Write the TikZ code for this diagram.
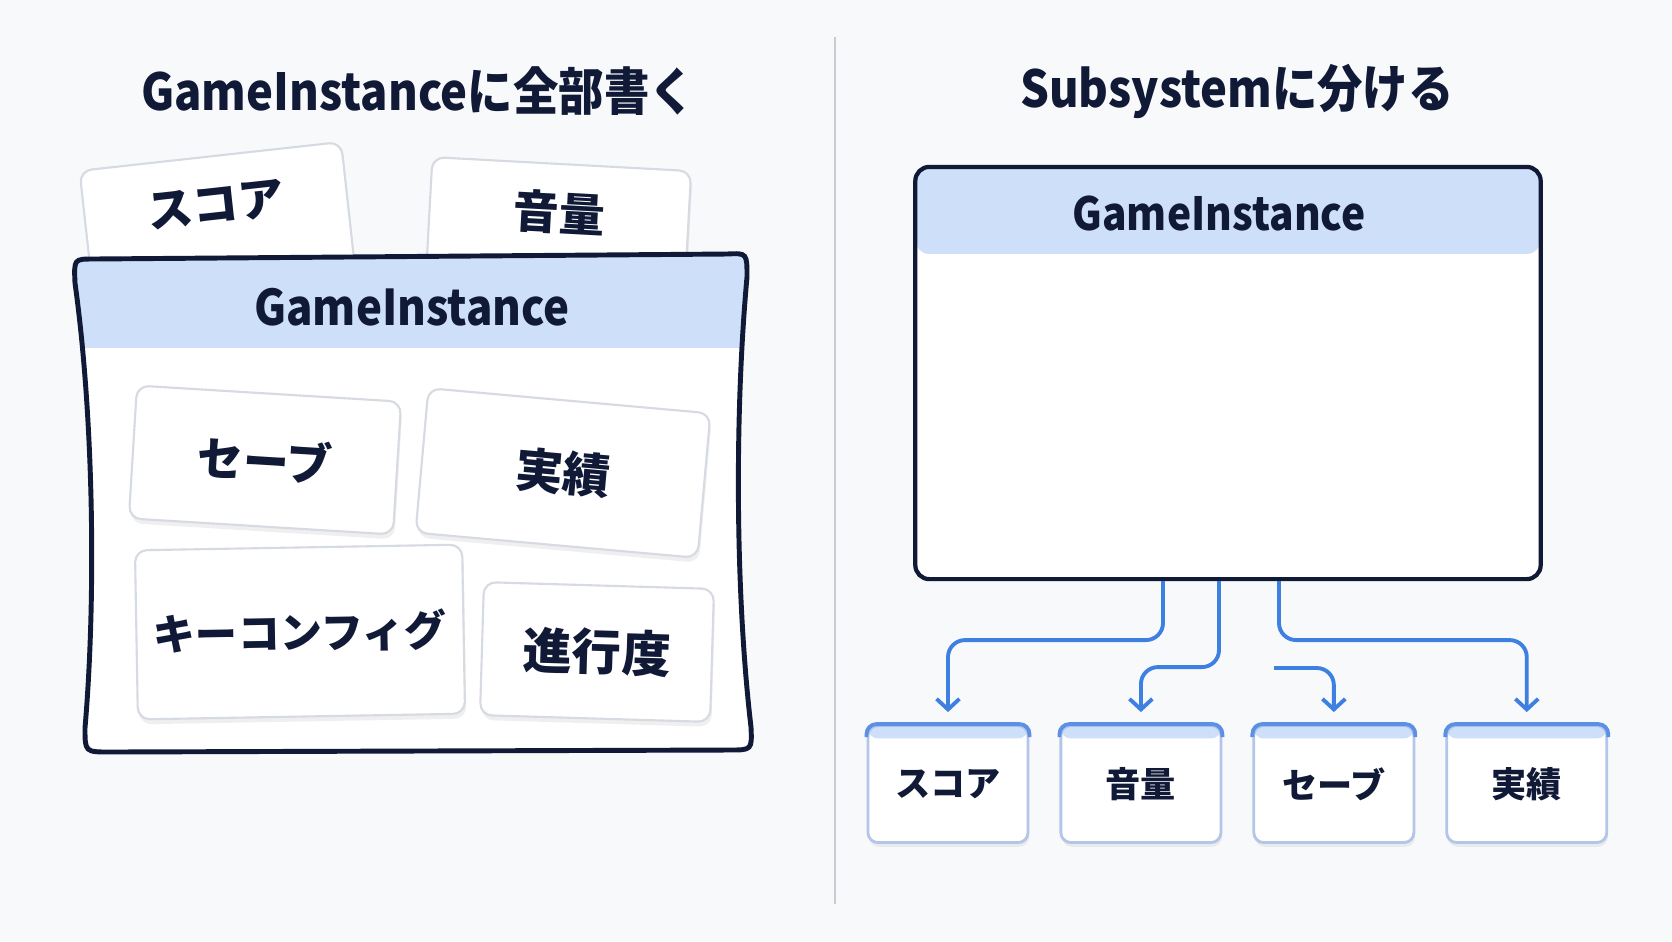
\documentclass[tikz,border=0pt]{standalone}
\usepackage{fontspec}
\newfontfamily\jp{Noto Sans CJK JP}
\newfontfamily\jpnarrow{Noto Sans CJK JP}[FakeStretch=0.89]
\usetikzlibrary{positioning,calc,shadows,arrows.meta}

\definecolor{ink}{HTML}{101936}
\definecolor{headfill}{HTML}{CEDFF9}
\definecolor{flowblue}{HTML}{3E7FE2}
\definecolor{cardline}{HTML}{D6DAE1}
\definecolor{subline}{HTML}{B4C5E8}
\definecolor{subtop}{HTML}{5C90E4}
\definecolor{bgpaper}{HTML}{F8F9FB}
\definecolor{divline}{HTML}{C8CCD3}

% outline of the crowded GameInstance on the left
\newcommand{\messybox}{(93,259) -- (727,254) .. controls (747,253) .. (747,277) .. controls (734,420) and (736,600) .. (751,727) .. controls (752,750) .. (729,750) -- (110,752) .. controls (85,752) .. (85,728) .. controls (96,600) and (94,420) .. (75,283) .. controls (74,259) .. (93,259) -- cycle}

\tikzset{
  title/.style={font=\jpnarrow\bfseries\fontsize{14.5pt}{16pt}\selectfont, text=ink},
  headtxt/.style={font=\jpnarrow\bfseries\fontsize{14pt}{16pt}\selectfont, text=ink},
  card/.style={draw=cardline, line width=0.6pt, fill=white, rounded corners=0.12cm, inner sep=0pt,
    drop shadow={opacity=0.12, shadow xshift=0.4pt, shadow yshift=-1.4pt},
    text=ink, font=\jp\bfseries\fontsize{13pt}{15pt}\selectfont},
  cardtxt/.style={text=ink, font=\jp\bfseries\fontsize{13pt}{15pt}\selectfont},
  bigbox/.style={draw=ink, line width=1.2pt, fill=white, rounded corners=0.14cm,
    path picture={\fill[headfill] (path picture bounding box.north west) rectangle ([yshift=-0.87cm]path picture bounding box.north east);}},
  subbox/.style={draw=subline, line width=0.8pt, fill=white, rounded corners=0.1cm,
    minimum width=1.6cm, minimum height=1.17cm, inner sep=0pt,
    drop shadow={opacity=0.12, shadow xshift=0.3pt, shadow yshift=-1.2pt},
    path picture={\fill[headfill] (path picture bounding box.north west) rectangle ([yshift=-0.13cm]path picture bounding box.north east);},
    text=ink, font=\jp\bfseries\fontsize{10pt}{12pt}\selectfont},
  flow/.style={flowblue, line width=1.1pt, rounded corners=0.17cm,
    -{Straight Barb[length=3pt,width=6.5pt]}, shorten >=0.12cm}
}

\begin{document}
\begin{tikzpicture}[x=0.01cm, y=-0.01cm]
\fill[bgpaper] (0,0) rectangle (1672,941);
\useasboundingbox (0,0) rectangle (1672,941);

% titles and divider
\node[title] (leftTitle) at (418,91) {GameInstanceに全部書く};
\node[title] (rightTitle) at (1237,91) {Subsystemに分ける};
\draw[divline, line width=0.7pt] (835,37) -- (835,904);

% cards sticking out of the top
\node[card, minimum width=2.63cm, minimum height=1.4cm, rotate=6.3] (topScore) at (218,226) {};
\node[cardtxt, rotate=6.3] (topScoreTxt) at ($(topScore.center)!0.3!(topScore.north)$) {スコア};
\node[card, minimum width=2.59cm, minimum height=1.4cm, rotate=-3.1] (topVol) at (558,234) {};
\node[cardtxt, rotate=-3.1] (topVolTxt) at ($(topVol.center)!0.3!(topVol.north)$) {音量};

% left GameInstance
\fill[white] \messybox;
\begin{scope}
\clip \messybox;
\fill[headfill] (60,240) rectangle (770,348);
\end{scope}
\draw[ink, line width=1.4pt] \messybox;
\node[headtxt] (leftHead) at (412,307) {GameInstance};

\node[card, minimum width=2.645cm, minimum height=1.33cm, rotate=-3.5] (save) at (265,460) {セーブ};
\node[card, minimum width=2.83cm, minimum height=1.45cm, rotate=-5.1, font=\jp\bfseries\fontsize{13.5pt}{15pt}\selectfont] (ach) at (563,473) {実績};
\node[card, minimum width=3.27cm, minimum height=1.69cm, rotate=1, font=\jp\bfseries\fontsize{12pt}{14pt}\selectfont] (keycfg) at (300,632) {キーコンフィグ};
\node[card, minimum width=2.30cm, minimum height=1.33cm, rotate=-1.7, font=\jp\bfseries\fontsize{14pt}{16pt}\selectfont] (prog) at (597,652) {進行度};

% right GameInstance with subsystems
\node[bigbox, minimum width=6.25cm, minimum height=4.12cm] (rightGI) at (1228,373) {};
\node[headtxt, font=\jpnarrow\bfseries\fontsize{13pt}{15pt}\selectfont] (rightHead) at (1219,213) {GameInstance};

\node[subbox] (bScore) at (948,784) {スコア};
\node[subbox, right=0.3cm of bScore] (bVol) {音量};
\node[subbox, right=0.3cm of bVol] (bSave) {セーブ};
\node[subbox, right=0.3cm of bSave] (bAch) {実績};
\foreach \b in {bScore,bVol,bSave,bAch}
  \draw[subtop, line width=1.1pt, rounded corners=0.1cm] ([yshift=-0.13cm]\b.north west) -- (\b.north west) -- (\b.north east) -- ([yshift=-0.13cm]\b.north east);

\coordinate (saveStart) at (1274,668);
\draw[flow] ($(rightGI.south)+(-65,0)$) |- ($(bScore.north)+(0,-84)$) -- (bScore);
\draw[flow] ($(rightGI.south)+(-9,0)$) |- ($(bVol.north)+(0,-57)$) -- (bVol);
\draw[flow] (saveStart) -| (bSave);
\draw[flow] ($(rightGI.south)+(51,0)$) |- ($(bAch.north)+(0,-84)$) -- (bAch);

\end{tikzpicture}
\end{document}
